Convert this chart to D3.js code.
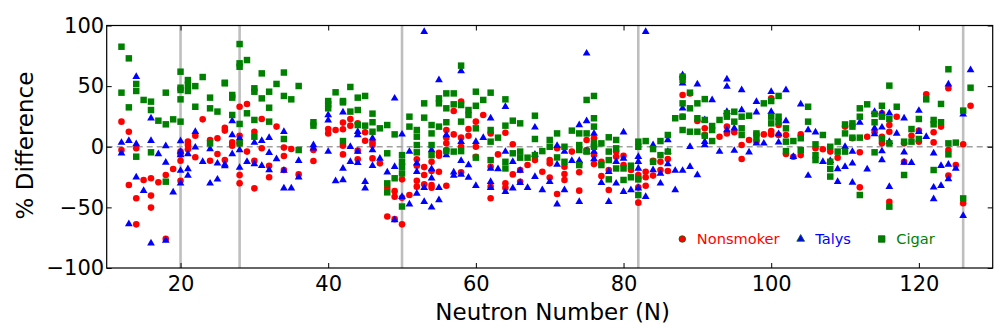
<!DOCTYPE html>
<html><head><meta charset="utf-8">
<script src="https://cdn.jsdelivr.net/npm/d3@7"></script>
<style>html,body{margin:0;padding:0;background:#fff;}svg{display:block;}</style>
</head><body>
<svg id="c" width="1008" height="336"></svg>
<script>
// Neutron number N and % difference values, grouped by N
const nonsmoker = [
[12,[20.7,-2.7]],[13,[12.4,-31.5]],[14,[-1.3,-42.5,-64]],[15,[-27.4]],[16,[-26,-40.3,-50.2]],[17,[-29.3]],
[18,[-23.3,-76]],[19,[-18.3]],[20,[-4,-11.5,-28,-6.3]],[21,[4.2,1.4,-2.1]],[22,[9.1,-8.7]],[23,[22.6]],
[24,[5.6,-11.5]],[25,[7,-6]],[26,[15.7,13.3,-11]],[27,[3.6,0.9]],[28,[33,9.1,2.8,-23.3,-30.2]],[29,[35.3,-4]],
[30,[12.4,-11.5,-34.3]],[31,[22.9,-1.3]],[32,[-15.6,-25.2]],[33,[16.6]],[34,[-0.7,-7.6,-19.2]],[35,[-1.9]],
[36,[-22.8]],[38,[-2.7,-11.8]],[40,[14.6,11]],[41,[13.8]],[42,[19.9,14.4,0.9,-6.3]],[43,[22.9,17.4]],
[44,[19.3,-3.2,-10.4]],[45,[11.9,5]],[46,[3.6,1.4,-9.6]],[47,[-13.7]],[48,[-33.8,-57.5]],[49,[-36.6,-41.3,-59.7]],
[50,[-26.9,-42.1,-64]],[51,[-39.8]],[52,[-10.4,-15.6,-28,-32.9]],[53,[-16.8,-23.3,-31]],[54,[-12.4,-20,-31.5,-33.8]],
[55,[-4.9,-7.4,-20.6]],[56,[13.8,7.5,2.8,-2.7,-32.1]],[57,[29.5,10.2]],[58,[37.2,7.5,0,-21.1]],[59,[14.6,9.1]],
[60,[20.7,0,-8.2]],[61,[26.2]],[62,[11,-16.5,-32.9,-42.5]],[63,[-6.3]],[64,[11.6,-30.2,-33.8]],[65,[2,-22.8]],
[66,[-19.2,-28.8]],[67,[-15.1]],[68,[-11]],[69,[-20.6]],[70,[-11,-13.7,-25.4]],[71,[-1.3,-38.9]],
[72,[-16.5,-22.5,-27.4]],[73,[-4]],[74,[-13.7,-21.1,-36.2]],[75,[5.6,-2.7]],[76,[7,-6.9,-14.3]],[77,[-12.4,-24.2]],
[78,[-19.2,-35.7]],[79,[-4,-8.2]],[80,[-7.4,-15.1]],[81,[-19.2]],[82,[-23.3,-26,-33.5,-46.1]],[83,[-20.6,-25.2,-32.1]],
[84,[-11.5,-23.8]],[85,[-12.4,-19.2]],[86,[-10.1,-20]],[88,[42.7,24.8]],[89,[44]],[90,[21.2]],[91,[15.2,9.7]],
[93,[8.3]],[94,[16.6,11]],[95,[11.9]],[96,[1.4,-10.1]],[97,[5.6]],[98,[10.5,4.2]],[99,[10.2]],[100,[39.9,13,10.2]],
[101,[17.9,9.7]],[102,[9.7,-6]],[103,[-8.2]],[104,[10.2,-6.9]],[106,[-1.3]],[107,[-2.1]],[108,[-4]],[109,[-9]],
[110,[16.6]],[111,[7]],[112,[-4.6,-33.5]],[113,[8.3]],[114,[11.9]],[115,[27.6,8.3,2.8]],[116,[17.9,12.4,-45.3]],
[117,[24.8]],[118,[2.8,-12.4]],[119,[9.1]],[120,[13.3,4.2]],[121,[43.2]],[122,[11.9,3.6]],[123,[16.6]],
[124,[48.2,-2.7,-23.8]],[125,[-15.1]],[126,[2,-46.6]],[127,[33.8]]
];
const talys = [
[12,[3.4,-5.4]],[13,[5,-63.7]],[14,[57.8,2.3,-25.2]],[15,[-36.2]],[16,[23.5,5,-79.6]],[17,[-6]],
[18,[0.6,-12.9,-77.4]],[19,[-37.6]],[20,[4.7,-6.9,-19.7,-30.2,-4]],[21,[-6,-18.3,-23.8]],[22,[12.4,-0.5]],
[23,[-12.4]],[24,[-1.9,-30.2]],[25,[-13.7,-26.9]],[26,[-14.6,-15.9]],[27,[21.2,9.7,-6]],[28,[7,-2.7,-17.2]],
[29,[-12.4]],[30,[3.4,-14.3]],[31,[5,-15.6]],[32,[7.5,-4.9,-19.2]],[33,[-10.1]],[34,[12.4,-19.7,-34.3]],
[35,[-34.3]],[36,[-11.5,-25.2]],[38,[1.4,-1.3]],[40,[26.2,21.8,-4]],[41,[-28.2]],[42,[28.4,-17.9,-27.4]],
[43,[0,-12.4]],[44,[12.4,9.7,-4,-13.2]],[45,[-28.8,-34.3]],[46,[7,-2.7,-15.6]],[47,[-9.6]],[48,[-21.1]],
[49,[39.9,-16.5,-60.5]],[50,[10.2,-41.3]],[51,[-4,-47.4]],[52,[-13.7,-20.6,-38.5]],[53,[94.9,-33.8,-45.3]],
[54,[-2.7,-18.3,-26,-50]],[55,[55,-33.8,-43.9]],[56,[9.7,-6.9]],[57,[-21.1,-23.8]],[58,[62.5,4.2,-11.5,-22.8]],
[59,[-15.1,-25.4]],[60,[4.2,-32.1]],[61,[7.5]],[62,[23.5,-17.9,-28.8,-33.8]],[63,[-18.3]],[64,[33,-4,-37.1]],
[65,[-12.4,-34.3]],[66,[-19.7,-29.6]],[67,[-33.8]],[68,[16,-6.3,-24.7]],[69,[-35.7]],[70,[-28.8]],
[71,[0.8,-14.6,-47.4]],[72,[-4,-35.7]],[73,[-11.5]],[74,[17.9,-11.5,-45.3]],[75,[77,21.2,-4]],[76,[11,-4,-10.1]],
[77,[-29.6]],[78,[-20.6,-45.3]],[79,[-12.4,-30.2]],[80,[11.9,-9.6,-37.1]],[81,[-35.7]],[82,[-8.2,-12.4,-17.9,-34.3]],
[83,[94.9,-41.3]],[84,[1.4,-19.2]],[85,[-22,-30.2]],[86,[5.6,-4,-14.3]],[87,[-19.7,-35.7]],[88,[59.2,52.3,31.7,-19.7]],
[89,[0,-16.5]],[90,[51.5,-23.3]],[91,[22.1,4.2,1.4]],[92,[38.6]],[93,[-4]],[94,[55.7,49.6,28.9,13.8]],
[95,[15.2,-3.2]],[96,[46.8,30.3]],[97,[-4.6]],[98,[37.2,28.4,2.8]],[99,[2.8]],[100,[45.4,28.9]],[101,[10.5,3.6]],
[102,[46.8,21.2]],[103,[-8.2]],[104,[35]],[105,[13.8,-23.8]],[106,[11.9]],[107,[-12.4]],[108,[-11.5]],
[109,[-18.3,-28.8]],[110,[0,-16.5]],[111,[-13.7,-29.4,-4]],[112,[20]],[113,[-18.6]],[114,[28.9,15.2,10.5]],
[115,[27.6,16,-3.6,-11]],[116,[27.6,4.2,-32.9]],[117,[11]],[118,[23.5,-4.6,-12.9]],[119,[-13.2]],[120,[29.8,12.4]],
[121,[8.3]],[122,[-5.4,-33.5,-43.1]],[123,[-15.6,-32.1]],[124,[51.5,-14.6,-26.6]],[125,[-17.9]],[126,[26.7,-56.9]],
[127,[63.3]]
];
const cigar = [
[12,[82.5,44.6]],[13,[72.9,32.5]],[14,[51.8,46,-8.2]],[15,[38.6]],[16,[37.2,30.3,-4.6]],[17,[21.5]],
[18,[44.6,18.5,-28.8]],[19,[22.6]],[20,[61.9,48.7,46.8,39.1,20.7]],[21,[55,50.9,46]],[22,[50,33]],[23,[57.5]],
[24,[40.5,31.7,2.8]],[25,[29]],[26,[52.8,52.3]],[27,[42.7,40.5,26.2]],[28,[84.7,68.8,66,18.8,2.8]],[29,[71.5,27.6]],
[30,[48.2,45.4,22.1,8.3]],[31,[60.5,39.9]],[32,[45.4,32.2,20.7]],[33,[51.8]],[34,[61.2,41.9,6.4]],[35,[39.1]],
[36,[50.1,-2.7]],[38,[20.2,17.4]],[40,[37.7,35,31.7]],[41,[44.9]],[42,[37.7,36.6,4.7]],[43,[49.3,29]],
[44,[40.5,30.3,17.9]],[45,[41.9,17.4]],[46,[27.3,20.2,12.4]],[47,[15.2]],[48,[17.9,-5.4,-30.2,-37.6]],
[49,[10.2,-26]],[50,[-6.9,-12.4,-16.5,-22,-49.3]],[51,[24.8,16.6]],[52,[13.8,8.3,1.4,-4.6]],[53,[35.8,24]],
[54,[17.9,11,1.4,-6.9]],[55,[39.9,35.8,16.6]],[56,[44,31.7,20.2,-3.6]],[57,[44,35,-4]],[58,[66.9,34.4,20.7,-3.6]],
[59,[30.3,26.2]],[60,[45.4,33.8,15.2,-9]],[61,[38.6]],[62,[44.6,13.8,4.2,-11]],[63,[7.5]],[64,[39.1,17.4,-12.4,-17.9]],
[65,[21.5,-5.4]],[66,[19.3,-4,-9]],[67,[-9]],[68,[25.6,6.4,-6.9]],[69,[-3.6]],[70,[5.6,0]],[71,[11,-8.8]],
[72,[0,-12.4]],[73,[13.3]],[74,[11,1.4,-2.7,-15.1]],[75,[38.6,11,-4]],[76,[41.9,23.5,16.6,2.8,0]],[77,[2.8,-15.1]],
[78,[7.8,-4,-11,-26.9]],[79,[5.6,-1.3,-17.9]],[80,[-17.9,-27.4]],[81,[-15.6,-25.2]],[82,[4.2,0,-26.9,-39.8]],
[83,[4.7]],[84,[-1.9,-12.4]],[85,[4.7,-6.9]],[86,[9.7,-4]],[87,[23.5]],[88,[57.8,55,35.8,24.8,13.8]],
[89,[44.6,31.7,12.4]],[90,[35.8,23.5,12.4]],[91,[39.3,22.1,9.1]],[92,[17.1,13.8,4.7]],[93,[22.1]],[94,[27.6,24.8]],
[95,[28.9,20.7]],[96,[24.8,15.2,9.7]],[97,[25.6]],[98,[11,7]],[99,[35.8]],[100,[37.7,24.8,19.3]],[101,[41.9,24.8,20.7]],
[102,[15.2,4.2,-3.6]],[103,[4.7]],[104,[7,-2.7]],[105,[33,20.7]],[106,[2,-6.9,-11]],[107,[9.7]],
[108,[0,-12.4,-18.3,-24.6]],[109,[4.2,-4]],[110,[18.4,11,-4]],[111,[19.3,7.5,16.6]],[112,[31.7,24.8,7.5,-39.8]],
[113,[35]],[114,[27,20.2,-4.6]],[115,[33.8,24.8,6.4]],[116,[50.4,22.9,2.8,-49.4]],[117,[33]],[118,[4.2,-23.3]],
[119,[14.6,4.2]],[120,[22.9,6.4]],[121,[39.1]],[122,[22.1,18.5,-19.2]],[123,[35.3,20.2]],[124,[63.9,2.8,-6.3]],
[125,[3.4]],[126,[29.8,-42.6]],[127,[48.7]]
];
const magicNumbers = [20, 28, 50, 82, 126];
const xTicks = [20, 40, 60, 80, 100, 120];
const yTicks = [-100, -50, 0, 50, 100];
const seriesNames = ["Nonsmoker", "Talys", "Cigar"];
const seriesColors = ["#ff0000", "#0000ff", "#008000"];
const seriesShapes = [d3.symbolCircle, d3.symbolTriangle, d3.symbolSquare];
const seriesData = [nonsmoker, talys, cigar];

const svg = d3.select("#c");
const L = 106.7, R = 992.7, T = 25.5, B = 268;
const x = d3.scaleLinear().domain([10, 130]).range([L, R]);
const y = d3.scaleLinear().domain([-100, 100]).range([B, T]);
const font = "DejaVu Sans, Bitstream Vera Sans, sans-serif";

// magic number lines
svg.append("g").selectAll("line").data(magicNumbers).join("line")
  .attr("x1", d => x(d)).attr("x2", d => x(d)).attr("y1", T).attr("y2", B)
  .attr("stroke", "#bfbfbf").attr("stroke-width", 2.6);
// zero line
svg.append("line").attr("x1", L).attr("x2", R).attr("y1", y(0)).attr("y2", y(0))
  .attr("stroke", "#a0a0a0").attr("stroke-width", 1.6).attr("stroke-dasharray", "6,4");

const sizes = [34, 26, 42];
seriesData.forEach((s, i) => {
  const pts = s.flatMap(([n, vals]) => vals.map(v => [n, v]));
  svg.append("g").selectAll("path").data(pts).join("path")
    .attr("transform", d => `translate(${x(d[0])},${y(d[1])})`)
    .attr("d", d3.symbol().type(seriesShapes[i]).size(sizes[i]))
    .attr("fill", seriesColors[i]);
});

// axes
const styleAxis = g => {
  g.select(".domain").remove();
  g.selectAll(".tick line").attr("stroke", "#000").attr("stroke-width", 1);
  g.selectAll("text").attr("font-family", font).attr("font-size", 21).attr("fill", "#000");
};
svg.append("g").attr("transform", `translate(0,${B})`)
  .call(d3.axisBottom(x).tickValues(xTicks).tickSizeInner(-5).tickSizeOuter(0).tickPadding(8.5).tickFormat(d3.format("d")))
  .call(styleAxis);
svg.append("g").attr("transform", `translate(0,${T})`)
  .call(d3.axisTop(x).tickValues(xTicks).tickSizeInner(-5).tickSizeOuter(0).tickFormat(""))
  .call(styleAxis);
svg.append("g").attr("transform", `translate(${L},0)`)
  .call(d3.axisLeft(y).tickValues(yTicks).tickSizeInner(-5).tickSizeOuter(0).tickPadding(2.5)
    .tickFormat(d => d < 0 ? "\u2212" + Math.abs(d) : String(d)))
  .call(styleAxis);
svg.append("g").attr("transform", `translate(${R},0)`)
  .call(d3.axisRight(y).tickValues(yTicks).tickSizeInner(-5).tickSizeOuter(0).tickFormat(""))
  .call(styleAxis);

// frame
svg.append("rect").attr("x", L).attr("y", T).attr("width", R - L).attr("height", B - T)
  .attr("fill", "none").attr("stroke", "#000").attr("stroke-width", 1.2);

// labels
svg.append("text").attr("x", (L + R) / 2 + 3).attr("y", 320).attr("text-anchor", "middle")
  .attr("font-family", font).attr("font-size", 23).text("Neutron Number (N)");
svg.append("text").attr("transform", "translate(33,145.5) rotate(-90)").attr("text-anchor", "middle")
  .attr("font-family", font).attr("font-size", 23).text("% Difference");

// legend
const legX = [682.3, 800.7, 881.7];
const lg = svg.append("g").selectAll("g").data(seriesNames).join("g")
  .attr("transform", (d, i) => `translate(${legX[i]},239)`);
lg.append("path").attr("d", (d, i) => d3.symbol().type(seriesShapes[i]).size(sizes[i])())
  .attr("fill", (d, i) => seriesColors[i]).attr("stroke", "#006400").attr("stroke-width", 0.8);
lg.append("text").attr("x", 14.5).attr("y", 5.2).attr("font-family", font).attr("font-size", 14.6)
  .attr("fill", (d, i) => seriesColors[i]).text(d => d);
</script>
</body></html>
